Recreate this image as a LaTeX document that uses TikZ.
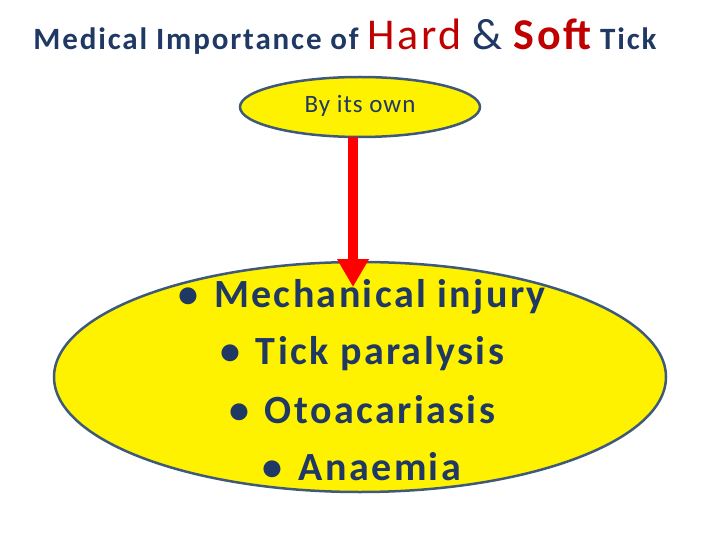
\documentclass[tikz,border=0pt]{standalone}
\usepackage{fontspec}
\setmainfont{Carlito}
\usetikzlibrary{shapes.geometric,arrows.meta}
\definecolor{navy}{HTML}{1F3864}
\definecolor{dred}{HTML}{C00000}
\definecolor{rim}{HTML}{3F5A78}
\begin{document}
\begin{tikzpicture}[x=1pt,y=-1pt,
  oval/.style={ellipse,draw=rim,line width=2.5pt,fill=yellow,inner sep=0pt},
  item/.style={font=\fontsize{40}{44}\selectfont\bfseries\addfontfeature{LetterSpace=6},text=navy}]
\useasboundingbox (0,0) rectangle (720,540);
\node[anchor=base,inner sep=0pt] (title) at (345,50) {\addfontfeature{LetterSpace=6}\textcolor{navy}{\fontsize{31}{34}\selectfont\bfseries Medical Importance of }\textcolor{dred}{\fontsize{44}{48}\selectfont Hard}\hspace{8pt} \textcolor{navy}{\fontsize{44}{48}\selectfont\&}\hspace{8pt} \textcolor{dred}{\fontsize{44}{48}\selectfont\bfseries Soft}\textcolor{navy}{\fontsize{31}{34}\selectfont\bfseries\ Tick}};
\node[oval,minimum width=240,minimum height=60] (top) at (360,107) {};
\node[font=\fontsize{25}{28}\selectfont\addfontfeature{LetterSpace=4},text=navy] (toptext) at (360,106) {By its own};
\node[oval,minimum width=612,minimum height=230] (big) at (360,377) {};
\draw[red,line width=10pt,-{Triangle[length=28pt,width=30pt]}] (353,137) -- (353,287) coordinate (tip);
\node[item] (l1) at (362,297) {\textbullet\hspace{0.4em}Mechanical injury};
\node[item] (l2) at (362,354) {\textbullet\hspace{0.4em}Tick paralysis};
\node[item] (l3) at (362,410) {\textbullet\hspace{0.4em}Otoacariasis};
\node[item] (l4) at (362,467) {\textbullet\hspace{0.4em}Anaemia};
\end{tikzpicture}
\end{document}
